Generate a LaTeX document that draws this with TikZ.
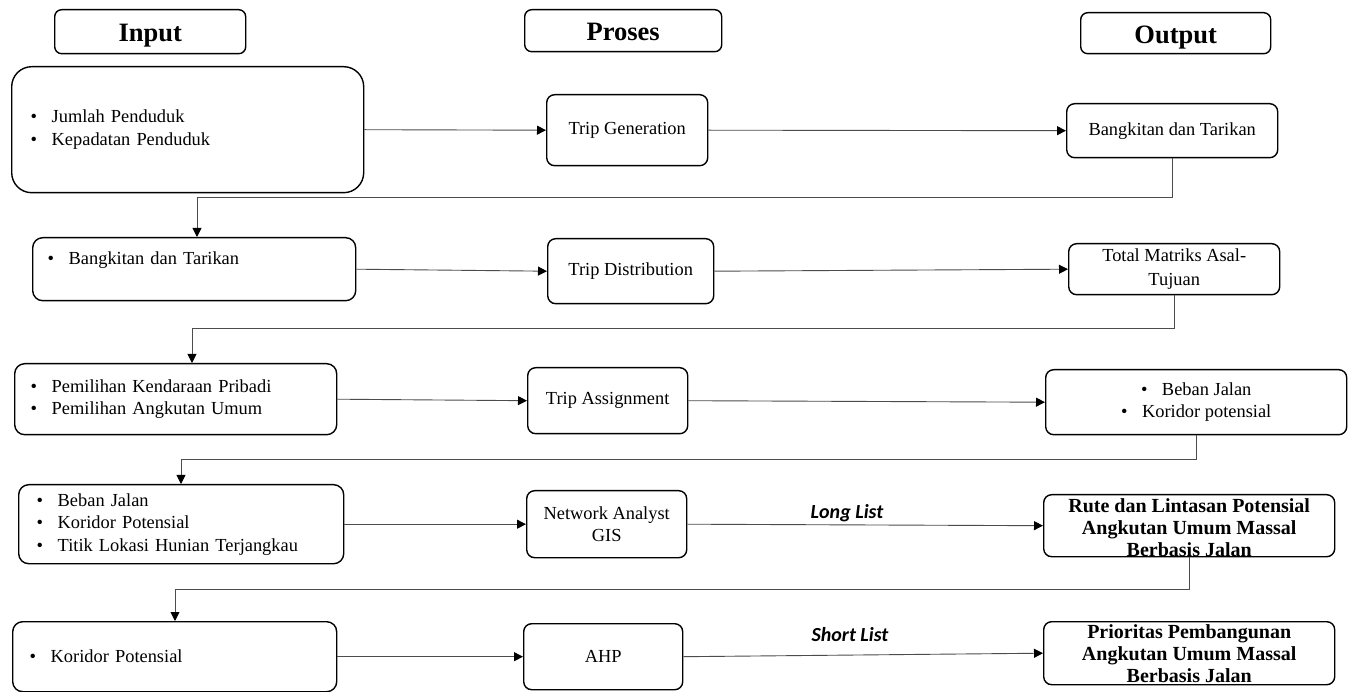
\documentclass[tikz,border=0pt]{standalone}
\usepackage{fontspec}
\setmainfont{Liberation Serif}
\newfontfamily\calfont{Carlito}
\usetikzlibrary{arrows.meta}
\newcommand{\bitem}[1]{\makebox[21pt][l]{\textbullet}#1}
\begin{document}
\begin{tikzpicture}[x=1pt,y=-1pt,
  box/.style={draw=black, line width=1.4pt, rounded corners=8pt, inner sep=0pt, anchor=north west},
  body/.style={font=\fontsize{18.4}{22.5}\selectfont},
  hdr/.style={box, rounded corners=7pt, text height=22pt, text depth=1.5pt, font=\fontsize{26.5}{30}\selectfont\bfseries},
  inbox/.style={box, body, align=left},
  procbox/.style={box, body, align=center},
  outbox/.style={box, body, align=center},
  boldtxt/.style={inner sep=0pt, align=center, font=\fontsize{20}{22}\selectfont\bfseries},
  listlbl/.style={inner sep=0pt, font=\fontsize{20}{24}\selectfont\calfont\bfseries\itshape},
  arr/.style={draw=black!70, line width=0.9pt, -{Triangle[length=9pt,width=9pt,fill=black,color=black]}}
]
\useasboundingbox (0,0) rectangle (1353,692);
\fill[white] (0,0) rectangle (1353,692);

% headers
\node[hdr, minimum width=191, minimum height=44] (hin) at (54,9) {Input};
\node[hdr, minimum width=197, minimum height=42] (hpr) at (524,9) {Proses};
\node[hdr, minimum width=190, minimum height=41] (hout) at (1080,12) {Output};

% input boxes
\node[inbox, rounded corners=20pt, minimum height=126, inner xsep=19pt, text width=314pt] (l1) at (11,66)
  {\bitem{Jumlah Penduduk}\\\bitem{Kepadatan Penduduk}};
\node[inbox, rounded corners=10pt, minimum height=63, inner xsep=15pt, text width=293pt] (l2) at (32,237)
  {\bitem{Bangkitan dan Tarikan}\\\mbox{}};
\node[inbox, rounded corners=10pt, minimum height=71, inner xsep=16pt, text width=290pt] (l3) at (14,363)
  {\bitem{Pemilihan Kendaraan Pribadi}\\\bitem{Pemilihan Angkutan Umum}};
\node[inbox, rounded corners=10pt, minimum height=79, inner xsep=18pt, text width=289pt] (l4) at (18,484)
  {\bitem{Beban Jalan}\\\bitem{Koridor Potensial}\\\bitem{Titik Lokasi Hunian Terjangkau}};
\node[inbox, rounded corners=10pt, minimum height=70, inner xsep=17pt, text width=290pt] (l5) at (12,621)
  {\bitem{Koridor Potensial}};

% process boxes
\node[procbox, minimum width=161, minimum height=71] (p1) at (546,94) {Trip Generation};
\node[procbox, minimum width=166, minimum height=65] (p2) at (547,238) {Trip Distribution};
\node[procbox, minimum width=160, minimum height=66] (p3) at (527,367) {Trip Assignment};
\node[procbox, minimum width=160, minimum height=67] (p4) at (526,490) {Network Analyst\\GIS};
\node[procbox, minimum width=159, minimum height=66] (p5) at (523,623) {AHP};

% output boxes
\node[outbox, minimum width=211, minimum height=54] (o1) at (1066,103) {Bangkitan dan Tarikan};
\node[outbox, minimum width=211, minimum height=51] (o2) at (1068,243) {Total Matriks Asal-\\[2pt]Tujuan};
\node[outbox, minimum width=301, minimum height=65] (o3) at (1045,369) {\bitem{Beban Jalan}\\\bitem{Koridor potensial}};
\node[outbox, minimum width=291, minimum height=62] (o4) at (1043,494) {};
\node[boldtxt] (o4t) at ([yshift=-2pt]o4.center) {Rute dan Lintasan Potensial\\Angkutan Umum Massal\\Berbasis Jalan};
\node[outbox, minimum width=291, minimum height=63] (o5) at (1043,621) {};
\node[boldtxt] (o5t) at (o5.center) {Prioritas Pembangunan\\Angkutan Umum Massal\\Berbasis Jalan};

% list labels
\node[listlbl] (ll) at (847,513) {Long List};
\node[listlbl] (sl) at (850,635) {Short List};

% horizontal arrows
\draw[arr] (l1.east) -- (p1.west);
\draw[arr] (p1.east) -- (o1.west);
\draw[arr] (l2.east) -- (p2.west);
\draw[arr] (p2.east) -- (o2.west);
\draw[arr] (l3.east) -- (p3.west);
\draw[arr] (p3.east) -- (o3.west);
\draw[arr] (l4.east) -- (p4.west);
\draw[arr] (p4.east) -- (o4.west);
\draw[arr] (l5.east) -- (p5.west);
\draw[arr] (p5.east) -- (o5.west);

% elbow connectors
\coordinate (k1) at (197,197);
\coordinate (k2) at (192,328);
\coordinate (k3) at (181,459);
\coordinate (k4) at (175,589);
\draw[arr] (o1.south) |- (k1) -- (k1 |- l2.north);
\draw[arr] (o2.south) |- (k2) -- (k2 |- l3.north);
\draw[arr] (o3.south) |- (k3) -- (k3 |- l4.north);
\draw[arr] (o4.south) |- (k4) -- (k4 |- l5.north);
\end{tikzpicture}
\end{document}
